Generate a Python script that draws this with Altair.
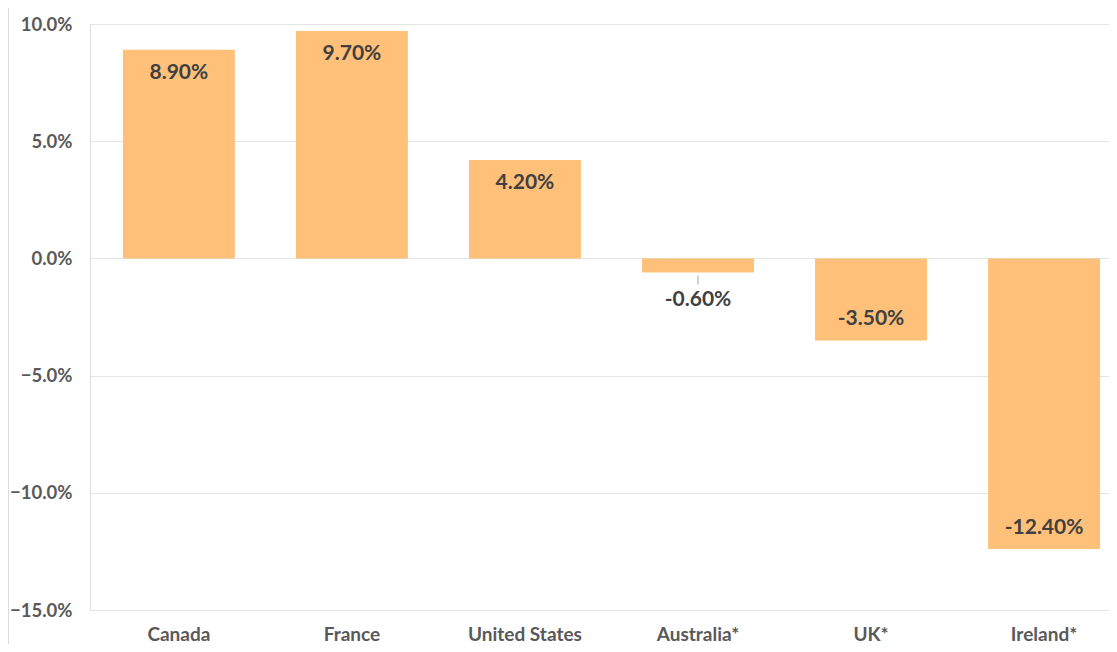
import altair as alt
import pandas as pd

countries = ["Canada", "France", "United States", "Australia*", "UK*", "Ireland*"]
changes = [8.9, 9.7, 4.2, -0.6, -3.5, -12.4]
labels = ["8.90%", "9.70%", "4.20%", "-0.60%", "-3.50%", "-12.40%"]

df = pd.DataFrame({"country": countries, "value": changes, "label": labels})

FONT = "Lato"
BAR = "#FFC07A"

x = alt.X("country:N", sort=None, title=None,
          scale=alt.Scale(paddingInner=0.353, paddingOuter=0.121, align=0.786),
          axis=alt.Axis(orient="bottom", labelAngle=0, domain=False, ticks=False,
                        labelFont=FONT, labelFontSize=19, labelFontWeight="bold",
                        labelColor="#595959", labelPadding=15, grid=False))
y = alt.Y("value:Q", title=None,
          scale=alt.Scale(domain=[-15, 10], nice=False, zero=False),
          axis=alt.Axis(values=[-15, -10, -5, 0, 5, 10],
                        labelExpr="format(datum.value, '.1f') + '%'",
                        domain=False, ticks=False, labelFont=FONT, labelFontSize=18.5,
                        labelFontWeight="bold", labelColor="#595959", labelPadding=18,
                        gridColor="#E3E3E3", gridWidth=1.2))

base = alt.Chart(df)

bars = base.mark_bar(color=BAR).encode(x=x, y=y, y2=alt.datum(0))

txt_style = dict(font=FONT, fontSize=21, fontWeight="bold", color="#404040")

pos = base.transform_filter("datum.value > 0").mark_text(
    baseline="middle", dy=23, **txt_style).encode(x=x, y=y, text="label:N")
neg = base.transform_filter("datum.value < -1").mark_text(
    baseline="middle", dy=-21, **txt_style).encode(x=x, y=y, text="label:N")
small = base.transform_filter("datum.value <= 0 && datum.value >= -1").mark_text(
    baseline="middle", dy=28, **txt_style).encode(x=x, y=y, text="label:N")
leader = base.transform_filter("datum.value <= 0 && datum.value >= -1").mark_rule(
    color="#A6A6A6", strokeWidth=1, yOffset=3, y2Offset=12).encode(
    x=x, y=y, y2="value:Q")

border = base.transform_filter("datum.country == 'Canada'").mark_rule(
    color="#D0D0D0", strokeWidth=1.5).encode(
    x=alt.value(-82), y=alt.value(-24), y2=alt.value(640))

chart = alt.layer(bars, pos, neg, small, leader, border).properties(
    width=1019, height=586,
    autosize=alt.AutoSizeParams(type="none"),
    padding={"left": 82, "top": 16, "right": 0, "bottom": 34},
).configure_view(stroke=None).configure(background="white")

chart.save("out.html", embed_options={"renderer": "svg", "actions": False})
